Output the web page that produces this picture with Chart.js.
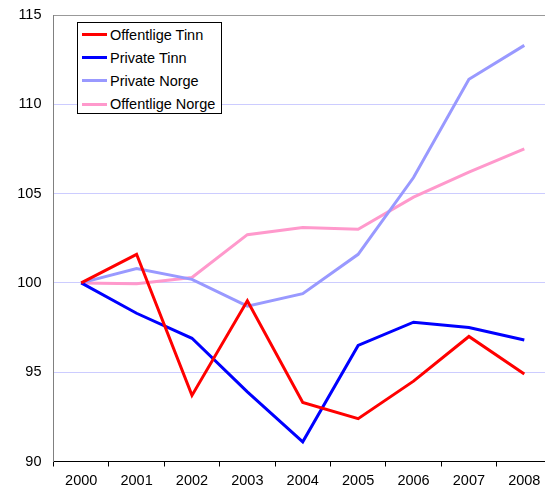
<!DOCTYPE html>
<html>
<head>
<meta charset="utf-8">
<script src="https://cdn.jsdelivr.net/npm/chart.js@4"></script>
<style>
  html, body { margin: 0; padding: 0; background: #fff; overflow: hidden; }
  #wrap { position: relative; width: 552px; height: 490px; }
  #legend { position: absolute; left: 77px; top: 22px; width: 143px; height: 90px;
    border: 1px solid #000; background: #fff; font-family: "Liberation Sans", Arial, sans-serif; font-size: 14.5px; color: #000; }
  .row { position: absolute; left: 4px; height: 20px; display: flex; align-items: center; white-space: nowrap; }
  .sw { width: 25px; height: 3px; margin-right: 3px; }
</style>
</head>
<body>
<div id="wrap">
  <canvas id="c" width="552" height="490"></canvas>
  <div id="legend"></div>
</div>
<script>
const categories = ["2000", "2001", "2002", "2003", "2004", "2005", "2006", "2007", "2008"];
const offentligeTinn = [100, 101.6, 93.7, 99.0, 93.3, 92.4, 94.5, 97.0, 94.9];
const privateTinn = [100, 98.3, 96.9, 93.9, 91.1, 96.5, 97.8, 97.5, 96.8];
const privateNorge = [100, 100.8, 100.2, 98.7, 99.4, 101.6, 105.9, 111.4, 113.3];
const offentligeNorge = [100, 99.95, 100.3, 102.7, 103.1, 103.0, 104.8, 106.2, 107.5];
const yTicks = [90, 95, 100, 105, 110, 115];

const FONT = '"Liberation Sans", Arial, sans-serif';

function ds(label, data, color) {
  return { label, data, borderColor: color, backgroundColor: color, borderWidth: 3,
    pointRadius: 0, pointHoverRadius: 0, tension: 0, fill: false, borderJoinStyle: 'miter', borderCapStyle: 'butt' };
}

const datasets = [
  ds("Offentlige Tinn", offentligeTinn, "#ff0000"),
  ds("Private Tinn", privateTinn, "#0000ff"),
  ds("Private Norge", privateNorge, "#9999ff"),
  ds("Offentlige Norge", offentligeNorge, "#ff99cc")
];

const chart = new Chart(document.getElementById('c'), {
  type: 'line',
  data: { labels: categories, datasets },
  options: {
    responsive: false,
    animation: false,
    layout: { padding: { top: 15, left: 0, right: 0, bottom: 0 } },
    plugins: { legend: { display: false }, tooltip: { enabled: false } },
    scales: {
      x: {
        offset: true,
        grid: { offset: true, drawOnChartArea: false, drawTicks: true, tickLength: 5, color: '#000' },
        border: { color: '#000', width: 1 },
        ticks: { color: '#000', font: { family: FONT, size: 14.5 }, padding: 6, maxRotation: 0, autoSkip: false },
        afterFit(s) { s.height = 28.5; }
      },
      y: {
        min: 90, max: 115,
        afterBuildTicks(s) { s.ticks = yTicks.map(v => ({ value: v })); },
        grid: { drawTicks: false, color: ctx => (ctx.tick && ctx.tick.value === 115) ? '#999999' : '#ccccff', lineWidth: 1 },
        border: { color: '#808080', width: 1 },
        ticks: { color: '#000', font: { family: FONT, size: 14.5 }, padding: 12 },
        afterFit(s) { s.width = 53.5; s.paddingTop = 0; s.paddingBottom = 0; }
      }
    }
  }
});

const legend = document.getElementById('legend');
chart.data.datasets.forEach((d, i) => {
  const row = document.createElement('div');
  row.className = 'row';
  row.style.top = (1.5 + i * 23.2) + 'px';
  const sw = document.createElement('span');
  sw.className = 'sw';
  sw.style.background = d.borderColor;
  const t = document.createElement('span');
  t.textContent = d.label;
  row.appendChild(sw);
  row.appendChild(t);
  legend.appendChild(row);
});
</script>
</body>
</html>
